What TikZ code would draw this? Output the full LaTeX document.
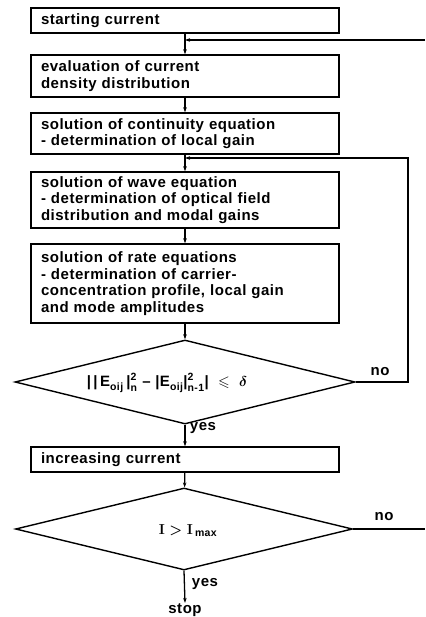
\documentclass[tikz,border=0pt]{standalone}
\usepackage{amsmath,amssymb}
\usepackage{fontspec}
\setmainfont{Liberation Sans}[LetterSpace=3.5]
\usetikzlibrary{shapes.geometric,arrows.meta}

\begin{document}
\begin{tikzpicture}[x=1pt,y=-1pt,
  line width=1.3pt,
  every node/.style={font=\fontsize{15}{16.5}\selectfont\bfseries\boldmath},
  stepbox/.style={draw, line width=1.4pt, text width=288pt, inner xsep=10pt,
    inner ysep=0pt, align=left},
  test/.style={draw, diamond, line width=1.4pt, inner sep=0pt},
  flow/.style={-{Stealth[length=5pt,width=3.5pt]}},
  lbl/.style={inner sep=0pt}]
\useasboundingbox (0,0) rectangle (425,617);

% process boxes
\node[stepbox, minimum height=25pt] (b1) at (185,20.5) {starting current};
\node[stepbox, minimum height=42pt] (b2) at (185,76) {evaluation of current\\density distribution};
\node[stepbox, minimum height=41pt] (b3) at (185,133.5) {solution of continuity equation\\- determination of local gain};
\node[stepbox, minimum height=56pt] (b4) at (185,200) {solution of wave equation\\- determination of optical field\\distribution and modal gains};
\node[stepbox, minimum height=79pt] (b5) at (185,283.5) {solution of rate equations\\- determination of carrier-\\concentration profile, local gain\\and mode amplitudes};

% convergence test
\node[test, minimum width=340pt, minimum height=84pt] (d1) at (185,382) {};
\node[lbl] (t1) at (167,383) {$\text{|\,|\,E}_{\text{oij}}\,\text{|}^{\text{2}}_{\text{n}}\ \text{--}\ \text{|E}_{\text{oij}}\text{|}^{\text{2}}_{\text{n-1}}\text{|}\ \leqslant\ \delta$};

\node[stepbox, minimum height=25pt] (b6) at (185,459.5) {increasing current};

% current limit test
\node[lbl] (t2) at (188,531) {$\mathbf{I} > \mathbf{I}_{\,\text{max}}$};
\node[test, minimum width=337pt, minimum height=82pt] (d2) at (184,529) {};

\node[lbl] (stop) at (185,610) {stop};

% junctions and free ends of the feedback lines
\coordinate (j1) at (185,40);
\coordinate (r1) at (425,40);
\coordinate (j2) at (185,158);
\coordinate (c2) at (408,382);
\coordinate (r2) at (425,529);

% main flow
\draw[flow] (b1) -- (b2);
\draw[flow] (b2) -- (b3);
\draw[flow] (b3) -- (b4);
\draw[flow] (b4) -- (b5);
\draw[flow] (b5) -- (d1);
\draw[flow] (d1) -- (b6);
\draw[flow] (b6) -- (d2);
\draw[flow] (d2.south) -- (stop.north);

% feedback loops
\draw[flow] (r1) -- (j1);
\draw[flow] (d1.east) -- (c2) |- (j2);
\draw (d2.east) -- (r2);

% branch labels
\node[lbl] (no1) at (380,372) {no};
\node[lbl] (yes1) at (203,428) {yes};
\node[lbl] (no2) at (384,517) {no};
\node[lbl] (yes2) at (205,584) {yes};
\end{tikzpicture}
\end{document}
